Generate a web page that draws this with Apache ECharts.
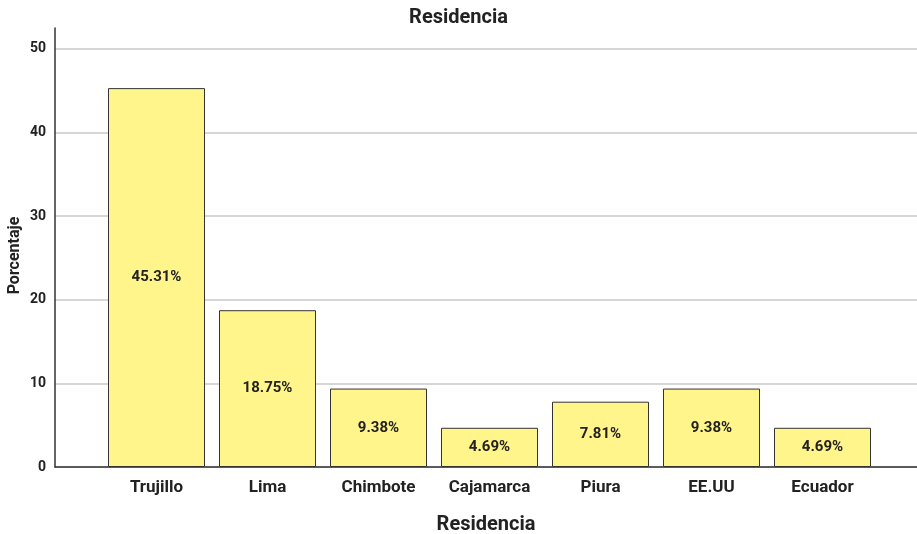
<!DOCTYPE html>
<html>
<head>
<meta charset="utf-8">
<script src="https://cdn.jsdelivr.net/npm/echarts@6/dist/echarts.min.js"></script>
<style>
  html, body { margin: 0; padding: 0; background: #fff; }
  #chart { width: 917px; height: 534px; }
</style>
</head>
<body>
<div id="chart"></div>
<script>
const categories = ['Trujillo', 'Lima', 'Chimbote', 'Cajamarca', 'Piura', 'EE.UU', 'Ecuador']
const percentages = [45.31, 18.75, 9.38, 4.69, 7.81, 9.38, 4.69]
const yMax = 52.5

const chart = echarts.init(document.getElementById('chart'))
const font = 'Roboto, sans-serif'

const option = {
  backgroundColor: '#ffffff',
  animation: false,
  textStyle: { fontFamily: font },
  title: {
    text: 'Residencia',
    left: 'center',
    top: 3,
    textStyle: { fontSize: 20, fontWeight: 'bold', color: '#222', fontFamily: font },
  },
  grid: [
    // axes + gridlines span the full width
    { left: 55, right: 0, top: 28, bottom: 67, outerBoundsMode: 'none', containLabel: false },
    // bars sit in an inset band
    { left: 101, right: 39, top: 28, bottom: 67, outerBoundsMode: 'none', containLabel: false },
  ],
  xAxis: [
    {
      type: 'value',
      gridIndex: 0,
      min: 0,
      max: 1,
      axisLine: { show: true, onZero: false, lineStyle: { color: '#333', width: 1.5 } },
      axisTick: { show: false },
      axisLabel: { show: false },
      splitLine: { show: false },
      name: 'Residencia',
      nameLocation: 'middle',
      nameGap: 48,
      nameTextStyle: { fontSize: 20, fontWeight: 'bold', color: '#222', fontFamily: font },
    },
    {
      type: 'category',
      gridIndex: 1,
      data: categories,
      axisLine: { show: false },
      axisTick: { show: false },
      axisLabel: { fontSize: 17, fontWeight: 'bold', color: '#222', margin: 12, fontFamily: font },
    },
  ],
  yAxis: [
    {
      type: 'value',
      gridIndex: 0,
      min: 0,
      max: yMax,
      interval: 10,
      axisLine: { show: true, lineStyle: { color: '#333', width: 1.5 } },
      axisTick: { show: false },
      axisLabel: {
        fontSize: 14,
        fontWeight: 'bold',
        color: '#222',
        margin: 9,
        showMaxLabel: false,
        fontFamily: font,
      },
      splitLine: { show: true, showMaxLine: false, lineStyle: { color: '#c8c8c8', width: 1.5 } },
      name: 'Porcentaje',
      nameLocation: 'middle',
      nameGap: 32,
      nameMoveOverlap: false,
      nameTextStyle: {
        fontSize: 16,
        fontWeight: 'bold',
        color: '#222',
        fontFamily: font,
        padding: [0, 16, 0, 0],
      },
    },
    {
      type: 'value',
      gridIndex: 1,
      min: 0,
      max: yMax,
      show: false,
    },
  ],
  series: [
    {
      type: 'bar',
      xAxisIndex: 1,
      yAxisIndex: 1,
      data: percentages,
      barWidth: 97,
      itemStyle: { color: '#fff58a', borderColor: '#333', borderWidth: 1 },
      label: {
        show: true,
        position: 'inside',
        formatter: (p) => p.value.toFixed(2) + '%',
        fontSize: 15,
        fontWeight: 'bold',
        color: '#222',
        fontFamily: font,
      },
    },
  ],
}

chart.setOption(option)
</script>
</body>
</html>
